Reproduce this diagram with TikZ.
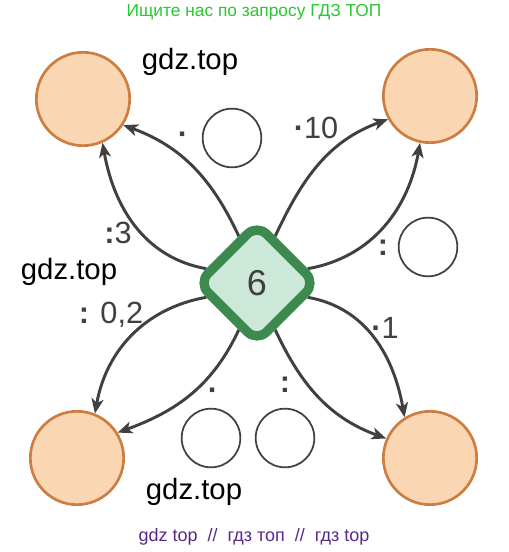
\documentclass[tikz,border=0pt]{standalone}
\usepackage{fontspec}
\setmainfont{Liberation Sans}
\usetikzlibrary{positioning,arrows.meta,calc,backgrounds}

\definecolor{peach}{RGB}{250,214,178}
\definecolor{rim}{RGB}{204,126,66}
\definecolor{leaf}{RGB}{60,138,78}
\definecolor{mint}{RGB}{204,232,216}
\definecolor{ink}{RGB}{64,64,64}
\definecolor{wmgreen}{RGB}{40,200,50}
\definecolor{wmpurple}{RGB}{88,40,140}

\begin{document}
\begin{tikzpicture}[x=0.75pt,y=0.75pt,
    ball/.style={circle, fill=peach, draw=rim, line width=2pt, minimum size=70pt, inner sep=0pt},
    hole/.style={circle, draw=ink, line width=1.3pt, minimum size=44pt, inner sep=0pt},
    op/.style={text=ink, font=\fontsize{23}{26}\selectfont, inner sep=0pt},
    arr/.style={draw=ink, line width=2.2pt, -{Stealth[length=11pt,width=9pt,inset=3pt]}},
    wm/.style={font=\fontsize{22}{26}\selectfont}]
    \useasboundingbox (0,0) rectangle (509,552);
    \foreach \n/\x/\y in {tl/83/453,tr/430/456,bl/77/94,br/430/94} {
        \node[ball] (\n) at (\x,\y) {};
    }
    \node[rectangle, rotate=45, minimum size=62pt, rounded corners=10pt, draw=leaf, line width=7pt, fill=mint] (d) at (257,269) {};
    \node[text=ink, font=\fontsize{27}{30}\selectfont] (six) at (d) {6};
    % operations and empty boxes
    \node[op] (opA) at (183,414) {\textbf{·}};
    \node[hole] (holeA) at (232,414) {};
    \node[op] (opB) at (316,424) {\textbf{·}10};
    \node[op] (opC) at (118,319) {\textbf{:}3};
    \node[op] (opD) at (111,237) {\textbf{:} 0,2};
    \node[op] (opE) at (383,304) {\textbf{:}};
    \node[hole] (holeE) at (428,305) {};
    \node[op] (opF) at (385,224) {\textbf{·}1};
    \node[op] (opG) at (213,158) {\textbf{·}};
    \node[hole] (holeG) at (211,114) {};
    \node[op] (opH) at (285,167) {\textbf{:}};
    \node[hole] (holeH) at (285,114) {};
    % watermarks
    \node[wm] (w1) at (190,490) {gdz.top};
    \node[wm] (w2) at (69,280) {gdz.top};
    \node[wm] (w3) at (194,60) {gdz.top};
    \node[text=wmgreen, font=\fontsize{13}{15}\selectfont] (hdr) at (254,540) {Ищите нас по запросу ГДЗ ТОП};
    \node[text=wmpurple, font=\fontsize{13.5}{15}\selectfont] (ftr) at (254,15) {gdz top \ // \ гдз топ \ // \ гдз top};
    \begin{scope}[on background layer]
        \fill[white] (0,0) rectangle (509,552);
        \draw[arr] ($(d.north west)!0.72!(d.north east)$) to[out=115,in=-20] (tl.-33);
        \draw[arr] ($(d.north west)!0.22!(d.north east)$) to[out=170,in=-80] (tl.-66);
        \draw[arr] ($(d.north east)!0.28!(d.south east)$) to[out=65,in=200] (tr.209);
        \draw[arr] ($(d.north east)!0.78!(d.south east)$) to[out=10,in=-100] (tr.258);
        \draw[arr] ($(d.north west)!0.22!(d.south west)$) to[out=190,in=80] (bl.68);
        \draw[arr] ($(d.north west)!0.72!(d.south west)$) to[out=-115,in=20] (bl.32);
        \draw[arr] ($(d.south east)!0.22!(d.south west)$) to[out=-10,in=100] (br.122);
        \draw[arr] ($(d.south east)!0.72!(d.south west)$) to[out=-65,in=160] (br.156);
    \end{scope}
\end{tikzpicture}
\end{document}
